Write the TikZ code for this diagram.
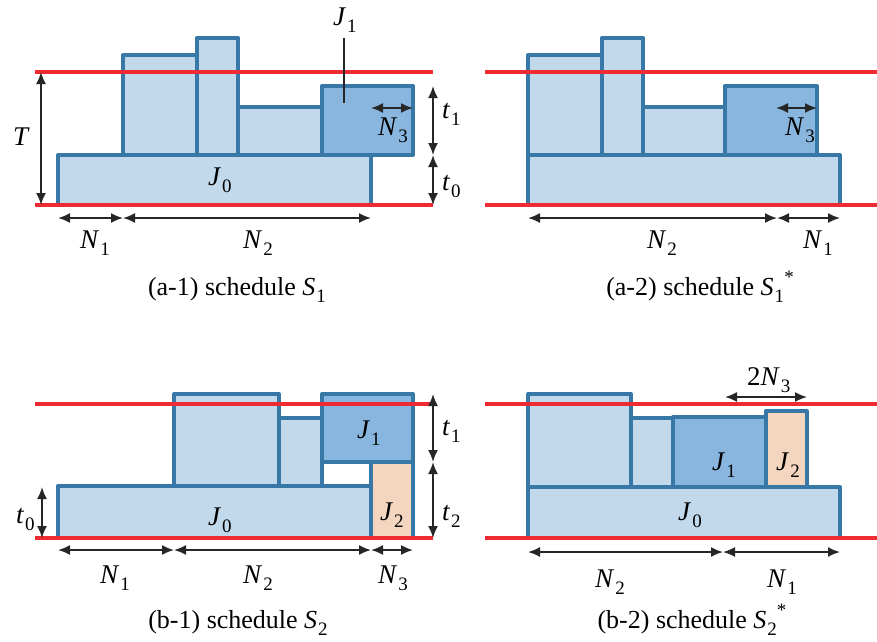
\documentclass[tikz,border=0pt]{standalone}
\usepackage{fontspec}
\setmainfont{LiberationSerif}[Extension=.ttf, UprightFont=*-Regular, ItalicFont=*-Italic, BoldFont=*-Bold, BoldItalicFont=*-BoldItalic]
\usetikzlibrary{arrows.meta}
\definecolor{jobblue}{HTML}{C2D8EB}
\definecolor{jobdark}{HTML}{88B6DF}
\definecolor{jobpeach}{HTML}{F4D6C0}
\definecolor{jobedge}{HTML}{3878A6}
\definecolor{limitred}{HTML}{EE2B33}
\newcommand{\sv}[2]{\textit{#1}\kern1pt\raisebox{-0.28em}{\fontsize{19}{19}\selectfont #2}}
\tikzset{
  job/.style={draw=jobedge, fill=#1, line width=4pt, line join=round},
  job/.default=jobblue,
  limit/.style={draw=limitred, line width=4pt},
  dimarr/.style={{Latex[length=12pt,width=10pt]}-{Latex[length=12pt,width=10pt]},
                 line width=1.8pt, black!85},
  lead/.style={line width=1.8pt, black!85},
  lbl/.style={font=\rmfamily\fontsize{27}{29}\selectfont, inner sep=0pt, anchor=base west},
  captxt/.style={font=\rmfamily\fontsize{26}{28}\selectfont, inner sep=0pt, anchor=base},
}

\begin{document}
\begin{tikzpicture}[x=1pt, y=-1pt]
  \useasboundingbox (0,0) rectangle (877,641);

  % (a-1) schedule S1
  \draw[job] (58,155) rectangle (371,205);
  \draw[job] (123,55) rectangle (197,155);
  \draw[job] (197,38) rectangle (238,155);
  \draw[job] (238,107) rectangle (322,155);
  \draw[job=jobdark] (322,86) rectangle (413,155);
  \draw[limit] (35,72) -- (433,72);
  \draw[limit] (35,205) -- (433,205);
  \coordinate (a1Ttop) at (41,72);
  \coordinate (a1Tbot) at (41,205);
  \coordinate (a1ta) at (433,86);
  \coordinate (a1tb) at (433,155);
  \coordinate (a1tc) at (433,205);
  \coordinate (a1na) at (58,218);
  \coordinate (a1nb) at (123,218);
  \coordinate (a1nc) at (371,218);
  \coordinate (a1ma) at (371,108);
  \coordinate (a1mb) at (413,108);
  \coordinate (a1ptr) at (344,103);
  \draw[dimarr] (a1Ttop) -- (a1Tbot);
  \draw[dimarr] (a1ta) -- (a1tb);
  \draw[dimarr] (a1tb) -- (a1tc);
  \draw[dimarr] (a1na) -- (a1nb);
  \draw[dimarr] (a1nb) -- (a1nc);
  \draw[dimarr] (a1ma) -- (a1mb);
  \node[lbl] (a1J1) at (333,25) {\sv{J}{1}};
  \draw[lead] (a1ptr) -- (a1ptr |- 0,38);
  \node[lbl] (a1T) at (13,145) {\textit{T}};
  \node[lbl] (a1t1) at (442,118) {\sv{t}{1}};
  \node[lbl] (a1t0) at (442,190) {\sv{t}{0}};
  \node[lbl] (a1J0) at (208,185) {\sv{J}{0}};
  \node[lbl] (a1N3) at (378,135) {\sv{N}{3}};
  \node[lbl] (a1N1) at (80,248) {\sv{N}{1}};
  \node[lbl] (a1N2) at (243,248) {\sv{N}{2}};
  \node[captxt] (a1cap) at (237,295) {(a-1) schedule \sv{S}{1}};

  % (a-2) schedule S1*
  \draw[job] (528,155) rectangle (840,205);
  \draw[job] (528,55) rectangle (602,155);
  \draw[job] (602,38) rectangle (643,155);
  \draw[job] (643,107) rectangle (725,155);
  \draw[job=jobdark] (725,86) rectangle (817,155);
  \draw[limit] (485,72) -- (877,72);
  \draw[limit] (485,205) -- (877,205);
  \coordinate (a2na) at (528,218);
  \coordinate (a2nb) at (777,218);
  \coordinate (a2nc) at (840,218);
  \coordinate (a2ma) at (776,108);
  \coordinate (a2mb) at (817,108);
  \draw[dimarr] (a2na) -- (a2nb);
  \draw[dimarr] (a2nb) -- (a2nc);
  \draw[dimarr] (a2ma) -- (a2mb);
  \node[lbl] (a2N3) at (785,135) {\sv{N}{3}};
  \node[lbl] (a2N2) at (647,248) {\sv{N}{2}};
  \node[lbl] (a2N1) at (803,248) {\sv{N}{1}};
  \node[captxt] (a2cap) at (700,295) {(a-2) schedule \sv{S}{1}\raisebox{0.45em}{\fontsize{19}{19}\selectfont *}};

  % (b-1) schedule S2
  \draw[job] (58,486) rectangle (371,538);
  \draw[job] (174,394) rectangle (279,486);
  \draw[job] (279,418) rectangle (322,486);
  \draw[job=jobdark] (322,394) rectangle (413,462);
  \draw[job=jobpeach] (371,462) rectangle (413,538);
  \draw[limit] (35,404) -- (433,404);
  \draw[limit] (35,538) -- (433,538);
  \coordinate (b1sa) at (42,487);
  \coordinate (b1sb) at (42,538);
  \coordinate (b1ta) at (433,394);
  \coordinate (b1tb) at (433,462);
  \coordinate (b1tc) at (433,538);
  \coordinate (b1na) at (58,550);
  \coordinate (b1nb) at (174,550);
  \coordinate (b1nc) at (371,550);
  \coordinate (b1nd) at (413,550);
  \draw[dimarr] (b1sa) -- (b1sb);
  \draw[dimarr] (b1ta) -- (b1tb);
  \draw[dimarr] (b1tb) -- (b1tc);
  \draw[dimarr] (b1na) -- (b1nb);
  \draw[dimarr] (b1nb) -- (b1nc);
  \draw[dimarr] (b1nc) -- (b1nd);
  \node[lbl] (b1t0) at (16,523) {\sv{t}{0}};
  \node[lbl] (b1t1) at (442,435) {\sv{t}{1}};
  \node[lbl] (b1t2) at (442,520) {\sv{t}{2}};
  \node[lbl] (b1J1) at (357,438) {\sv{J}{1}};
  \node[lbl] (b1J2) at (380,520) {\sv{J}{2}};
  \node[lbl] (b1J0) at (208,525) {\sv{J}{0}};
  \node[lbl] (b1N1) at (100,583) {\sv{N}{1}};
  \node[lbl] (b1N2) at (243,583) {\sv{N}{2}};
  \node[lbl] (b1N3) at (378,583) {\sv{N}{3}};
  \node[captxt] (b1cap) at (238,628) {(b-1) schedule \sv{S}{2}};

  % (b-2) schedule S2*
  \draw[job] (528,487) rectangle (840,538);
  \draw[job] (528,394) rectangle (631,487);
  \draw[job] (631,418) rectangle (673,487);
  \draw[job=jobdark] (673,417) rectangle (766,487);
  \draw[job=jobpeach] (766,411) rectangle (807,487);
  \draw[limit] (485,404) -- (877,404);
  \draw[limit] (485,538) -- (877,538);
  \coordinate (b2wa) at (725,397);
  \coordinate (b2wb) at (807,397);
  \coordinate (b2na) at (528,552);
  \coordinate (b2nb) at (723,552);
  \coordinate (b2nc) at (840,552);
  \draw[dimarr] (b2wa) -- (b2wb);
  \draw[dimarr] (b2na) -- (b2nb);
  \draw[dimarr] (b2nb) -- (b2nc);
  \node[lbl] (b2N3) at (747,385) {2\sv{N}{3}};
  \node[lbl] (b2J1) at (712,470) {\sv{J}{1}};
  \node[lbl] (b2J2) at (776,470) {\sv{J}{2}};
  \node[lbl] (b2J0) at (678,520) {\sv{J}{0}};
  \node[lbl] (b2N2) at (595,587) {\sv{N}{2}};
  \node[lbl] (b2N1) at (767,587) {\sv{N}{1}};
  \node[captxt] (b2cap) at (692,628) {(b-2) schedule \sv{S}{2}\raisebox{0.45em}{\fontsize{19}{19}\selectfont *}};
\end{tikzpicture}
\end{document}
